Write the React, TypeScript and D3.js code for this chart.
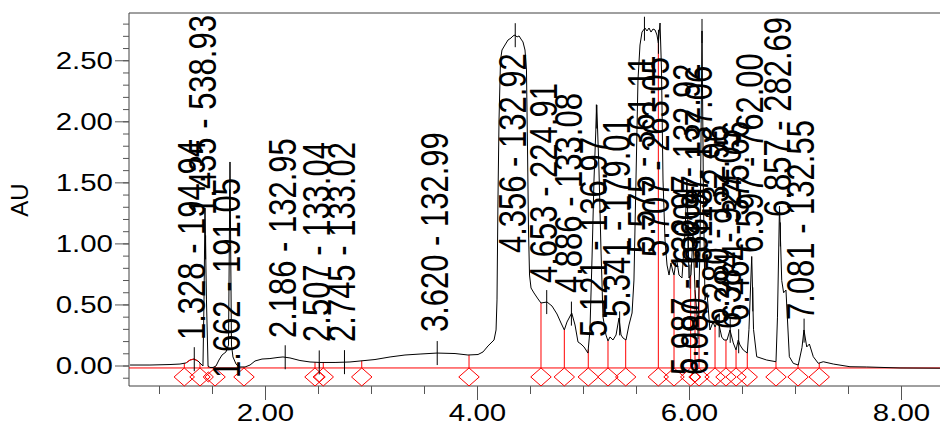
import React, { useEffect, useRef } from "react";
import * as d3 from "d3";

// chromatogram trace (minutes, AU)
const traceTime = [
  0.722, 0.91, 1.099, 1.193, 1.25, 1.288, 1.325, 1.363, 1.392, 1.41, 1.42, 1.429, 1.443, 1.458, 1.476,
  1.505, 1.533, 1.561, 1.59, 1.627, 1.651, 1.665, 1.679, 1.693, 1.722, 1.75, 1.807, 1.854, 1.901, 1.967,
  2.042, 2.118, 2.165, 2.231, 2.325, 2.42, 2.514, 2.656, 2.797, 2.892, 3.033, 3.175, 3.316, 3.458, 3.618,
  3.788, 3.91, 4.005, 4.052, 4.099, 4.156, 4.175, 4.184, 4.193, 4.203, 4.217, 4.231, 4.259, 4.288, 4.316,
  4.335, 4.354, 4.373, 4.392, 4.41, 4.429, 4.448, 4.462, 4.472, 4.481, 4.491, 4.505, 4.533, 4.571, 4.599,
  4.656, 4.703, 4.75, 4.788, 4.819, 4.844, 4.889, 4.92, 4.948, 4.976, 5.005, 5.042, 5.061, 5.08, 5.099,
  5.125, 5.146, 5.165, 5.184, 5.212, 5.231, 5.25, 5.278, 5.307, 5.335, 5.354, 5.373, 5.401, 5.429, 5.458,
  5.476, 5.495, 5.514, 5.533, 5.552, 5.58, 5.599, 5.618, 5.637, 5.656, 5.675, 5.693, 5.706, 5.722, 5.736,
  5.75, 5.769, 5.788, 5.807, 5.825, 5.844, 5.854, 5.877, 5.901, 5.929, 5.958, 5.976, 5.995, 6.014, 6.033,
  6.052, 6.08, 6.099, 6.118, 6.132, 6.146, 6.165, 6.193, 6.222, 6.241, 6.269, 6.304, 6.325, 6.354, 6.382,
  6.413, 6.439, 6.46, 6.476, 6.507, 6.545, 6.561, 6.587, 6.604, 6.634, 6.728, 6.816, 6.83, 6.849, 6.87,
  6.888, 6.91, 6.942, 6.979, 7.026, 7.061, 7.08, 7.106, 7.131, 7.168, 7.215, 7.262, 7.357, 7.514, 7.672,
  7.986, 8.363,
];
const traceAU = [
  0.008, 0.008, 0.012, 0.016, 0.025, 0.049, 0.057, 0.041, 0.016, 0.0, 0.541, 1.294, 0.541, 0.0, -0.012,
  -0.012, 0.0, 0.049, 0.09, 0.115, 0.172, 1.671, 0.172, 0.074, 0.016, -0.008, -0.008, 0.008, 0.041, 0.057,
  0.061, 0.07, 0.074, 0.066, 0.045, 0.033, 0.029, 0.029, 0.033, 0.041, 0.053, 0.074, 0.09, 0.098, 0.106,
  0.102, 0.09, 0.094, 0.115, 0.164, 0.213, 0.295, 0.541, 1.36, 2.015, 2.506, 2.588, 2.629, 2.67, 2.686,
  2.703, 2.711, 2.695, 2.703, 2.678, 2.654, 2.588, 2.424, 1.769, 1.114, 0.745, 0.639, 0.598, 0.549, 0.516,
  0.524, 0.491, 0.426, 0.352, 0.295, 0.36, 0.434, 0.336, 0.197, 0.18, 0.156, 0.106, 0.295, 0.868, 1.523,
  2.138, 1.605, 0.95, 0.401, 0.254, 0.205, 0.238, 0.213, 0.254, 0.393, 0.254, 0.229, 0.213, 0.336, 0.434,
  0.704, 1.523, 2.342, 2.629, 2.735, 2.768, 2.744, 2.768, 2.735, 2.76, 2.752, 2.711, 2.645, 2.809, 2.424,
  1.523, 1.032, 0.827, 0.745, 0.844, 0.77, 0.745, 0.885, 0.745, 0.721, 1.1, 1.523, 0.721, 0.745, 1.07,
  0.622, 0.319, 0.95, 2.744, 1.36, 0.541, 0.6, 0.295, 0.36, 0.319, 0.377, 0.237, 0.213, 0.213, 0.295,
  0.189, 0.131, 0.213, 0.172, 0.131, 0.106, 0.3, 0.897, 0.3, 0.076, 0.049, 0.035, 0.4, 1.31, 0.7,
  0.6, 0.622, 0.076, 0.022, 0.008, 0.15, 0.295, 0.156, 0.18, 0.076, 0.022, 0.035, 0.016, -0.006, -0.008,
  -0.016, -0.018,
];

// labelled peaks: retention time, m/z, level (AU) where the label text starts
const peakTimes = [
  1.328, 1.435, 1.662, 2.186, 2.507, 2.745, 3.62, 4.356, 4.653, 4.886, 5.121, 5.341,
  5.575, 5.707, 5.987, 6.004, 6.08, 6.118, 6.28, 6.384, 6.464, 6.597, 6.857, 7.081,
];
const peakMass = [
  "194.94", "538.93", "191.05", "132.95", "133.04", "133.02", "132.99", "132.92", "224.91", "133.08", "136.97", "179.01",
  "361.11", "263.05", "132.97", "132.92", "133.97", "137.06", "132.96", "927.05", "375.66", "762.00", "282.69", "132.55",
];
const labelFoot = [
  0.213, 1.237, -0.098, 0.229, 0.197, 0.197, 0.278, 0.925, 0.68, 0.598, 0.238, 0.401,
  0.925, 0.893, -0.074, 0.84, -0.074, 0.84, 0.336, 0.303, 0.369, 0.925, 1.221, 0.377,
];

// integration markers (peak start / end)
const markerTimes = [
  1.234, 1.382, 1.524, 1.797, 2.467, 2.545, 2.908, 3.92, 4.599, 4.819, 5.045, 5.231, 5.398,
  5.706, 5.854, 6.011, 6.09, 6.241, 6.344, 6.439, 6.545, 6.816, 7.024, 7.224,
];
const smallMarkerTimes = [1.46, 2.508, 6.052];

const baselineAU = -0.016;
const yMajor = [0, 0.5, 1, 1.5, 2, 2.5];
const xMajor = [2, 4, 6, 8];

const SX = 1.28; // picture is stretched horizontally

export default function App() {
  const ref = useRef<SVGSVGElement>(null);

  useEffect(() => {
    const svg = d3.select(ref.current);
    svg.selectAll("*").remove();

    const left = 129 / SX, right = 950 / SX, top = 13, bottom = 386;

    const x = d3.scaleLinear().domain([2, 8]).range([265.5 / SX, 901.5 / SX]);
    const y = d3.scaleLinear().domain([0, 2.5]).range([366, 60.75]);

    const bis = d3.bisector((d: number) => d).left;
    const traceAt = (t: number) => {
      let i = bis(traceTime, t);
      if (i <= 0) return traceAU[0];
      if (i >= traceTime.length) return traceAU[traceAU.length - 1];
      const t0 = traceTime[i - 1], t1 = traceTime[i];
      const k = (t - t0) / (t1 - t0);
      return traceAU[i - 1] + k * (traceAU[i] - traceAU[i - 1]);
    };

    const g = svg.append("g").attr("transform", `scale(${SX},1)`);
    const font = "'Liberation Sans', Arial, sans-serif";

    // frame
    g.append("path")
      .attr("d", `M${right},${top}H${left}V${bottom}H${right}`)
      .attr("fill", "none")
      .attr("stroke", "#404040")
      .attr("vector-effect", "non-scaling-stroke");

    // y ticks
    const yMinor = d3.range(-1, 29).map(i => i / 10);
    g.selectAll(".ymin").data(yMinor).enter().append("line")
      .attr("x1", left - 6 / SX).attr("x2", left)
      .attr("y1", d => y(d)).attr("y2", d => y(d))
      .attr("stroke", "#555").attr("vector-effect", "non-scaling-stroke");
    g.selectAll(".ymaj").data(yMajor).enter().append("line")
      .attr("x1", left - 14 / SX).attr("x2", left)
      .attr("y1", d => y(d)).attr("y2", d => y(d))
      .attr("stroke", "#555").attr("vector-effect", "non-scaling-stroke");
    g.selectAll(".ylab").data(yMajor).enter().append("text")
      .attr("x", 113 / SX).attr("y", d => y(d)).attr("dy", "0.35em")
      .attr("text-anchor", "end")
      .attr("font-family", font).attr("font-size", 23)
      .text(d => d3.format(".2f")(d));

    // x ticks
    const xMinor = d3.range(2, 17).map(i => i / 2);
    g.selectAll(".xmin").data(xMinor).enter().append("line")
      .attr("x1", d => x(d)).attr("x2", d => x(d))
      .attr("y1", bottom).attr("y2", bottom + 8)
      .attr("stroke", "#555").attr("vector-effect", "non-scaling-stroke");
    g.selectAll(".xmaj").data(xMajor).enter().append("line")
      .attr("x1", d => x(d)).attr("x2", d => x(d))
      .attr("y1", bottom).attr("y2", bottom + 14)
      .attr("stroke", "#555").attr("vector-effect", "non-scaling-stroke");
    g.selectAll(".xlab").data(xMajor).enter().append("text")
      .attr("x", d => x(d)).attr("y", 421)
      .attr("text-anchor", "middle")
      .attr("font-family", font).attr("font-size", 23)
      .text(d => d3.format(".2f")(d));

    // red baseline, drop lines and markers
    const yb = y(baselineAU);
    g.append("line")
      .attr("x1", left).attr("x2", right).attr("y1", yb).attr("y2", yb)
      .attr("stroke", "#ff0000").attr("vector-effect", "non-scaling-stroke");

    const allMarkers = markerTimes.concat(smallMarkerTimes);
    g.selectAll(".drop").data(allMarkers).enter().append("line")
      .attr("x1", d => x(d)).attr("x2", d => x(d))
      .attr("y1", yb).attr("y2", d => Math.min(yb, y(traceAt(d))))
      .attr("stroke", "#ff0000").attr("vector-effect", "non-scaling-stroke");

    const diamond = (cx: number, hw: number, hh: number, cy: number) =>
      `M${cx},${cy - hh}L${cx + hw},${cy}L${cx},${cy + hh}L${cx - hw},${cy}Z`;
    g.selectAll(".mk").data(markerTimes).enter().append("path")
      .attr("d", d => diamond(x(d), 8, 9, yb + 9))
      .attr("fill", "none").attr("stroke", "#ff0000")
      .attr("vector-effect", "non-scaling-stroke");
    g.selectAll(".mks").data(smallMarkerTimes).enter().append("path")
      .attr("d", d => diamond(x(d), 4, 5, yb + 9))
      .attr("fill", "none").attr("stroke", "#ff0000")
      .attr("vector-effect", "non-scaling-stroke");

    // trace
    const pts = traceTime.map((t, i) => [t, traceAU[i]] as [number, number]);
    const line = d3.line<[number, number]>().x(d => x(d[0])).y(d => y(d[1]));
    g.append("path")
      .attr("d", line(pts))
      .attr("fill", "none").attr("stroke", "#000").attr("stroke-width", 1)
      .attr("vector-effect", "non-scaling-stroke");

    // first small peak is drawn red
    const redPts = pts.filter(d => d[0] >= markerTimes[0] && d[0] <= markerTimes[1]);
    g.append("path")
      .attr("d", line(redPts))
      .attr("fill", "none").attr("stroke", "#ff0000")
      .attr("vector-effect", "non-scaling-stroke");

    // apex ticks
    g.selectAll(".apex").data(peakTimes).enter().append("line")
      .attr("x1", d => x(d)).attr("x2", d => x(d))
      .attr("y1", d => y(traceAt(d)) - 12).attr("y2", d => y(traceAt(d)) + 12)
      .attr("stroke", "#000").attr("vector-effect", "non-scaling-stroke");

    // peak labels
    g.selectAll(".plab").data(peakTimes).enter().append("text")
      .attr("transform", (d, i) => `translate(${x(d) - 4 / SX},${y(labelFoot[i])}) rotate(-90)`)
      .attr("dy", "0.36em")
      .attr("font-family", font).attr("font-size", 31)
      .text((d, i) => `${d3.format(".3f")(d)} - ${peakMass[i]}`);

    // axis title (not stretched)
    svg.append("text")
      .attr("transform", "translate(28,200) rotate(-90)")
      .attr("text-anchor", "middle")
      .attr("font-family", font).attr("font-size", 24)
      .text("AU");
  }, []);

  return (
    <svg
      ref={ref}
      width={940}
      height={425}
      style={{ position: "absolute", left: 0, top: 0, background: "#fff" }}
    />
  );
}
